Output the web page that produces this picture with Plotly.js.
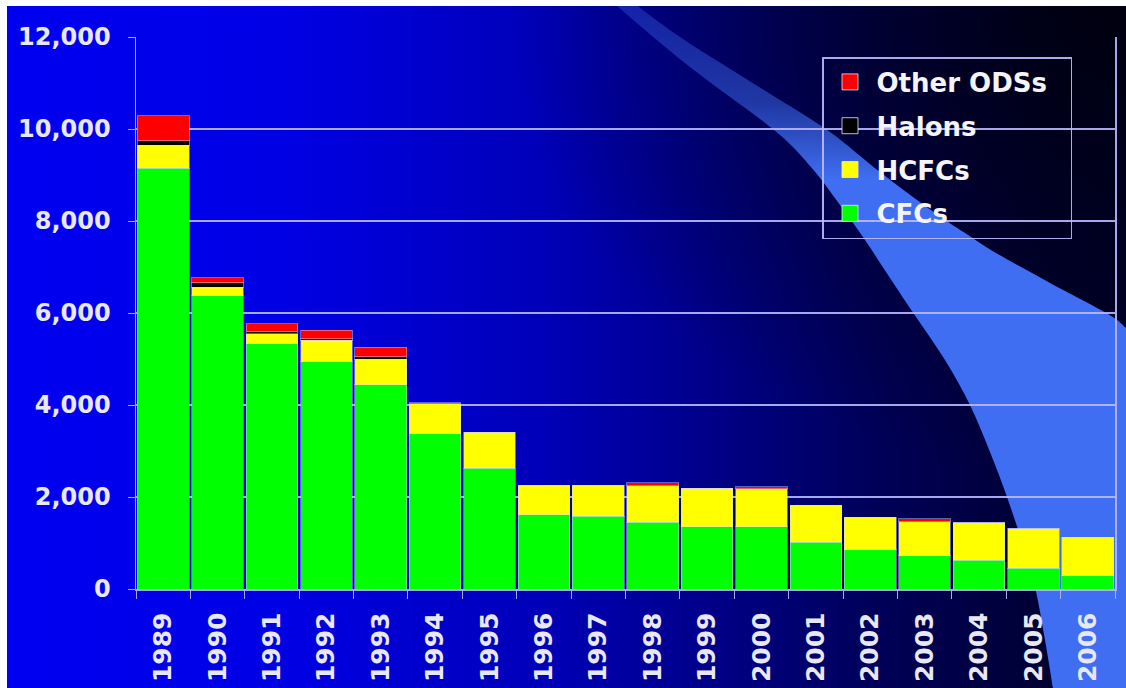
<!DOCTYPE html>
<html>
<head>
<meta charset="utf-8">
<script src="https://cdn.plot.ly/plotly-3.0.1.min.js"></script>
<style>
  html, body { margin: 0; padding: 0; background: #ffffff; }
  #bg {
    position: absolute; left: 7px; top: 6px; width: 1119px; height: 682px; overflow: hidden;
    background:
      radial-gradient(ellipse 55% 70% at 100% 0%, rgba(0,0,10,0.85) 0%, rgba(0,0,20,0.5) 45%, rgba(0,0,30,0) 100%),
      linear-gradient(to right, #0000f2 0%, #0000e4 25%, #0000b8 48%, #000088 63%, #000058 78%, #000035 92%, #00002a 100%);
  }
  #bg svg { position: absolute; left: -7px; top: -6px; }
  #chart { position: absolute; left: 0; top: 0; width: 1126px; height: 688px; }
</style>
</head>
<body>
<div id="bg"><svg id="deco" width="1126" height="688" xmlns="http://www.w3.org/2000/svg">
  <defs>
    <linearGradient id="bandGrad" gradientUnits="userSpaceOnUse" x1="0" y1="0" x2="0" y2="688">
      <stop offset="0" stop-color="#3f6ef2" stop-opacity="0.3"/>
      <stop offset="0.15" stop-color="#3f6ef2" stop-opacity="0.5"/>
      <stop offset="0.26" stop-color="#3f6ef2" stop-opacity="1"/>
      <stop offset="1" stop-color="#3f6ef2" stop-opacity="1"/>
    </linearGradient>
  </defs>
  <path id="band" fill="url(#bandGrad)" d=""/>
</svg></div>
<div id="chart"></div>
<script>
// ---- data ----
const years = ['1989','1990','1991','1992','1993','1994','1995','1996','1997','1998','1999','2000','2001','2002','2003','2004','2005','2006'];
const cfcs      = [9150, 6370, 5330, 4935, 4435, 3370, 2630, 1610, 1585, 1455, 1350, 1350, 1020, 850, 720, 630, 455, 285];
const hcfcs     = [500, 195, 215, 478, 565, 655, 783, 650, 675, 785, 845, 825, 805, 715, 740, 805, 850, 845];
const halons    = [95, 90, 45, 25, 45, 0, 0, 0, 0, 0, 0, 0, 0, 0, 0, 0, 0, 0];
const otherOds  = [540, 110, 175, 190, 215, 20, 0, 0, 0, 65, 0, 45, 0, 0, 65, 0, 0, 0];
const seriesNames = ['CFCs', 'HCFCs', 'Halons', 'Other ODSs'];
const legendOrder = ['Other ODSs', 'Halons', 'HCFCs', 'CFCs'];
const yTicks = [0, 2000, 4000, 6000, 8000, 10000, 12000];
const yTickText = ['0', '2,000', '4,000', '6,000', '8,000', '10,000', '12,000'];

// ---- decorative background swoosh (page pixels), smoothed ----
const lower = [[612,0],[617,6],[690,67],[774,130],[811,167],[840,205],[865,240],[890,278],[912,311],[945,360],[970,405],[990,452],[1007,497],[1022,542],[1035,587],[1045,640],[1053,688]];
const upper = [[1126,328],[1108,314],[1050,283],[996,253],[968,235],[935,213],[880,172],[830,132],[780,100],[727,67],[680,37],[638,6],[636,0]];
function smooth(pts) {
  let d = '';
  for (let i = 0; i < pts.length - 1; i++) {
    const p0 = pts[Math.max(i - 1, 0)], p1 = pts[i], p2 = pts[i + 1], p3 = pts[Math.min(i + 2, pts.length - 1)];
    const c1 = [p1[0] + (p2[0] - p0[0]) / 6, p1[1] + (p2[1] - p0[1]) / 6];
    const c2 = [p2[0] - (p3[0] - p1[0]) / 6, p2[1] - (p3[1] - p1[1]) / 6];
    d += ' C' + c1.map(v => v.toFixed(1)).join(',') + ' ' + c2.map(v => v.toFixed(1)).join(',') + ' ' + p2.join(',');
  }
  return d;
}
document.getElementById('band').setAttribute('d',
  'M' + lower[0].join(',') + smooth(lower) + ' L1126,688 L' + upper[0].join(',') + smooth(upper) + ' Z');

// ---- layout geometry ----
const W = 1126, H = 688;
const M = { l: 136, r: 11, t: 37, b: 99 };
const PW = W - M.l - M.r, PH = H - M.t - M.b;

const colors = { 'CFCs': '#00ff00', 'HCFCs': '#ffff00', 'Halons': '#000000', 'Other ODSs': '#ff0000' };
const values = { 'CFCs': cfcs, 'HCFCs': hcfcs, 'Halons': halons, 'Other ODSs': otherOds };
const FONT = 'DejaVu Sans, Arial, sans-serif';
const TXT = '#e8e8f4';
const GRID = 'rgba(185,185,255,0.9)';

const traces = seriesNames.map(n => ({
  type: 'bar', name: n, x: years, y: values[n], showlegend: false,
  marker: { color: colors[n], line: { color: 'rgba(215,215,255,0.45)', width: 1 } },
  hoverinfo: 'x+y+name'
}));
// legend entries (top to bottom)
legendOrder.forEach(n => traces.push({
  type: 'scatter', mode: 'markers', name: n + '\u00a0\u00a0', x: [null], y: [null], legendgroup: n,
  marker: { symbol: 'square', size: 16, color: colors[n], line: { color: 'rgba(230,230,255,0.8)', width: 1 } }
}));

const layout = {
  width: W, height: H,
  margin: M,
  paper_bgcolor: 'rgba(0,0,0,0)',
  plot_bgcolor: 'rgba(0,0,0,0)',
  barmode: 'stack',
  bargap: 0.05,
  showlegend: true,
  legend: {
    x: (822 - M.l) / PW, y: (H - M.b - 57) / PH, xanchor: 'left', yanchor: 'top',
    bgcolor: 'rgba(0,0,0,0)', bordercolor: 'rgba(190,190,255,0.9)', borderwidth: 1.5,
    font: { family: FONT, size: 26, color: '#f4f4fa', weight: 'bold' },
    traceorder: 'grouped', tracegroupgap: 7, itemwidth: 43
  },
  xaxis: {
    type: 'category',
    showgrid: false, zeroline: false,
    showline: true, linecolor: GRID, linewidth: 1.5,
    ticks: 'outside', ticklen: 8, tickcolor: GRID, tickwidth: 1, tickson: 'boundaries',
    tickangle: -90,
    ticklabelstandoff: 12,
    tickfont: { family: FONT, size: 25, color: TXT, weight: 'bold' }
  },
  yaxis: {
    range: [0, 12000],
    tickvals: yTicks, ticktext: yTickText,
    showgrid: true, gridcolor: GRID, gridwidth: 1.5,
    zeroline: false,
    showline: true, linecolor: GRID, linewidth: 1.5, mirror: true,
    ticks: 'outside', ticklen: 7, tickcolor: GRID, tickwidth: 1,
    ticklabelstandoff: 12,
    tickfont: { family: FONT, size: 24, color: TXT, weight: 'bold' }
  }
};

Plotly.newPlot('chart', traces, layout, { displayModeBar: false, staticPlot: true });
</script>
</body>
</html>
